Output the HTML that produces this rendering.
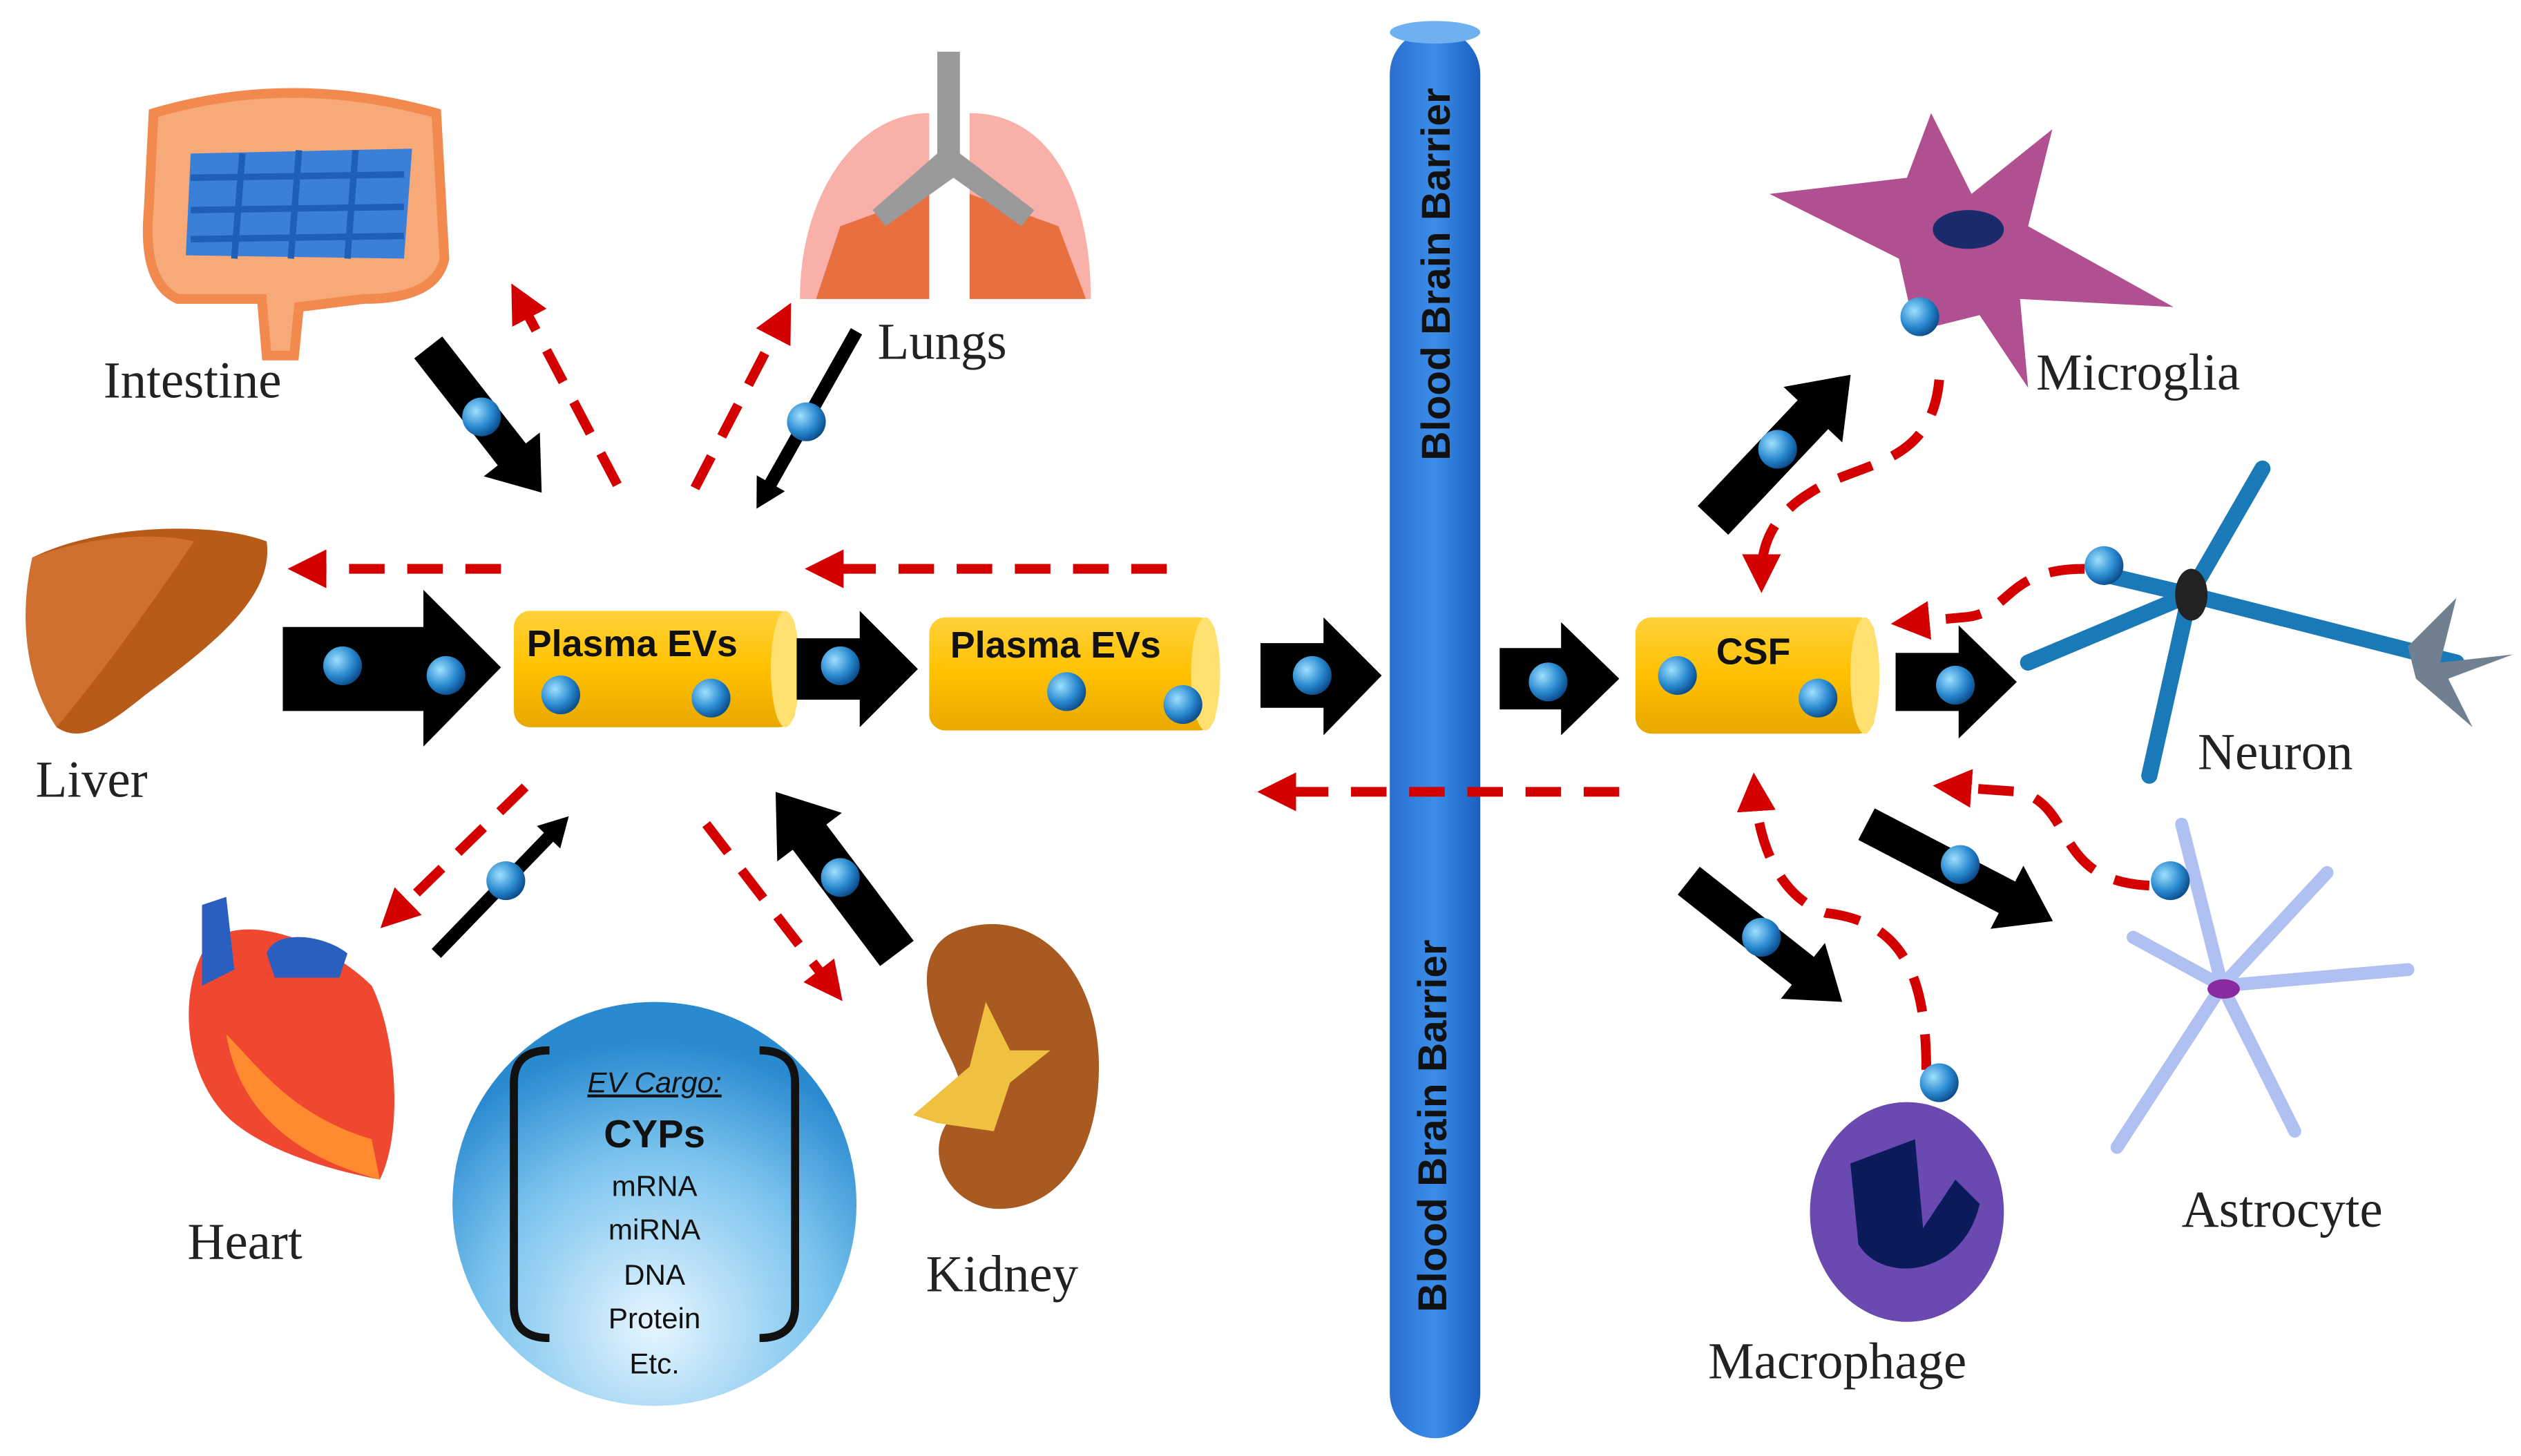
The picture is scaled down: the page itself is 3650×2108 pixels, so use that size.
<!DOCTYPE html>
<html><head><meta charset="utf-8"><style>
html,body{margin:0;padding:0;background:#fff;}
svg{display:block;}
.lbl{font-family:"Liberation Serif",serif;font-size:32px;fill:#222;}
.ev{font-family:"Liberation Sans",sans-serif;font-weight:bold;font-size:23px;fill:#111;}
.bbb{font-family:"Liberation Sans",sans-serif;font-weight:bold;font-size:25px;fill:#111;}
.d{fill:none;stroke:#D40000;stroke-width:6;stroke-dasharray:22 14;marker-end:url(#rh);}
</style></head><body>
<svg width="3650" height="2108" viewBox="0 0 1560 901" preserveAspectRatio="none" xmlns="http://www.w3.org/2000/svg">
<defs>
<radialGradient id="dot" cx="35%" cy="35%" r="70%"><stop offset="0" stop-color="#9fe0ff"/><stop offset="0.6" stop-color="#2a8ad0"/><stop offset="1" stop-color="#0a4a8a"/></radialGradient>
<linearGradient id="bar" x1="0" x2="1"><stop offset="0" stop-color="#2a6fd0"/><stop offset="0.5" stop-color="#3b8de8"/><stop offset="1" stop-color="#1a5fc0"/></linearGradient>
<radialGradient id="cargo" cx="50%" cy="80%" r="70%"><stop offset="0" stop-color="#e8f6ff"/><stop offset="0.6" stop-color="#7cc4ee"/><stop offset="1" stop-color="#2a8ad0"/></radialGradient>
<linearGradient id="cyl" x1="0" y1="0" x2="0" y2="1"><stop offset="0" stop-color="#ffd23a"/><stop offset="0.5" stop-color="#ffc000"/><stop offset="1" stop-color="#e8a800"/></linearGradient>
<marker id="rh" markerWidth="4" markerHeight="4" refX="2" refY="2" orient="auto" markerUnits="strokeWidth"><path d="M0,0 L4,2 L0,4 Z" fill="#D40000"/></marker>
<symbol id="b" overflow="visible"><circle r="12" fill="url(#dot)"/></symbol>
</defs>

<rect x="860" y="18" width="56" height="872" rx="28" fill="url(#bar)"/>
<ellipse cx="888" cy="20" rx="28" ry="7" fill="#6fb0f0"/>
<text class="bbb" transform="translate(897,285) rotate(-90)">Blood Brain Barrier</text>
<text class="bbb" transform="translate(895,812) rotate(-90)">Blood Brain Barrier</text>

<g>
<rect x="318" y="378" width="174" height="72" rx="10" fill="url(#cyl)"/><ellipse cx="486" cy="414" rx="9" ry="36" fill="#ffe070"/>
<text class="ev" x="326" y="406">Plasma EVs</text>
<use href="#b" x="347" y="430"/><use href="#b" x="440" y="432"/>
<rect x="575" y="382" width="177" height="70" rx="10" fill="url(#cyl)"/><ellipse cx="746" cy="417" rx="9" ry="35" fill="#ffe070"/>
<text class="ev" x="588" y="407">Plasma EVs</text>
<use href="#b" x="660" y="428"/><use href="#b" x="732" y="436"/>
<rect x="1012" y="382" width="148" height="72" rx="10" fill="url(#cyl)"/><ellipse cx="1154" cy="418" rx="9" ry="36" fill="#ffe070"/>
<text class="ev" x="1062" y="411">CSF</text>
<use href="#b" x="1038" y="418"/><use href="#b" x="1125" y="432"/>
</g>

<polygon points="175,388 262,388 262,365 310,413 262,462 262,440 175,440" fill="#000"/>
<use href="#b" x="212" y="412"/><use href="#b" x="276" y="418"/>
<polygon points="493,395 532,395 532,378 568,414 532,450 532,433 493,433" fill="#000"/>
<use href="#b" x="520" y="412"/>
<polygon points="780,398 819,398 819,382 855,418 819,455 819,438 780,438" fill="#000"/>
<use href="#b" x="812" y="418"/>
<polygon points="928,401 966,401 966,385 1002,420 966,455 966,439 928,439" fill="#000"/>
<use href="#b" x="958" y="422"/>
<polygon points="1173,404 1212,404 1212,387 1248,422 1212,457 1212,440 1173,440" fill="#000"/>
<use href="#b" x="1210" y="424"/>

<g transform="translate(265,215) rotate(52)"><polygon points="0,-11 84,-11 84,-22 114,0 84,22 84,11 0,11" fill="#000"/></g>
<use href="#b" x="298" y="258"/>
<g transform="translate(530,205) rotate(119.4)"><polygon points="0,-4 108,-4 108,-10 126,0 108,10 108,4 0,4" fill="#000"/></g>
<use href="#b" x="499" y="261"/>
<g transform="translate(270,590) rotate(-46)"><polygon points="0,-4 100,-4 100,-10 118,0 100,10 100,4 0,4" fill="#000"/></g>
<use href="#b" x="313" y="545"/>
<g transform="translate(555,590) rotate(-126.9)"><polygon points="0,-13 90,-13 90,-25 125,0 90,25 90,13 0,13" fill="#000"/></g>
<use href="#b" x="520" y="543"/>
<g transform="translate(1060,322) rotate(-46.6)"><polygon points="0,-13 90,-13 90,-25 124,0 90,25 90,13 0,13" fill="#000"/></g>
<use href="#b" x="1100" y="278"/>
<g transform="translate(1155,510) rotate(27.5)"><polygon points="0,-11 98,-11 98,-22 130,0 98,22 98,11 0,11" fill="#000"/></g>
<use href="#b" x="1213" y="535"/>
<g transform="translate(1045,545) rotate(38.3)"><polygon points="0,-11 90,-11 90,-22 121,0 90,22 90,11 0,11" fill="#000"/></g>
<use href="#b" x="1090" y="580"/>

<path class="d" d="M382,300 L322,186"/>
<path class="d" d="M430,302 L484,198"/>
<path class="d" d="M310,352 L190,352"/>
<path class="d" d="M722,352 L510,352"/>
<path class="d" d="M325,487 L244,566"/>
<path class="d" d="M437,510 L514,610"/>
<path class="d" d="M1002,490 L790,490"/>
<path class="d" d="M1200,235 C1195,290 1150,285 1120,305 C1095,320 1090,340 1090,355"/>
<path class="d" d="M1290,352 C1240,352 1245,380 1215,382 L1182,385"/>
<path class="d" d="M1330,548 C1270,545 1285,500 1250,490 L1208,487"/>
<path class="d" d="M1192,662 C1192,600 1175,570 1130,565 C1100,555 1088,520 1086,490"/>

<g>
<path d="M95,70 Q180,45 270,70 L275,160 Q270,185 225,185 L185,190 L182,220 L165,220 L162,185 L110,185 Q88,175 92,130 Z" fill="#f7a978" stroke="#f28a50" stroke-width="6"/>
<path d="M118,95 L255,92 L250,160 L115,158 Z" fill="#3a7fd8"/>
<path d="M118,110 L250,108 M118,130 L250,128 M118,148 L250,146 M150,95 L145,160 M185,93 L180,160 M220,93 L215,160" stroke="#1e5fb8" stroke-width="4"/>
</g>
<text class="lbl" x="64" y="246">Intestine</text>

<g>
<path d="M575,70 C530,70 495,120 495,185 L575,185 Z" fill="#f8b0a8"/>
<path d="M600,70 C650,70 675,120 675,185 L600,185 Z" fill="#f8b0a8"/>
<path d="M520,140 L575,120 L575,185 L505,185 Z" fill="#e87040"/>
<path d="M655,140 L600,120 L600,185 L672,185 Z" fill="#e87040"/>
<path d="M580,32 L594,32 L594,95 L640,130 L632,140 L590,110 L548,140 L540,130 L580,95 Z" fill="#9a9a9a"/>
</g>
<text class="lbl" x="543" y="222">Lungs</text>

<path d="M20,345 C60,325 130,322 165,335 C170,370 130,400 90,430 C65,450 50,460 35,450 C15,420 12,380 20,345 Z" fill="#b85a18"/>
<path d="M20,345 C60,330 100,330 120,335 C90,380 60,420 35,450 C15,420 12,380 20,345 Z" fill="#d07030"/>
<text class="lbl" x="22" y="493">Liver</text>

<g>
<path d="M125,590 C140,560 200,580 230,610 C245,640 250,700 235,730 C210,725 170,715 145,695 C115,670 110,620 125,590 Z" fill="#f04830"/>
<path d="M125,560 L140,555 L145,600 L125,610 Z" fill="#2a5fc0"/>
<path d="M165,590 C170,575 200,578 215,590 L210,605 L170,605 Z" fill="#2a5fc0"/>
<path d="M140,640 C160,660 180,690 230,705 L235,730 C200,720 150,700 140,640 Z" fill="#ff8a30"/>
</g>
<text class="lbl" x="116" y="779">Heart</text>

<circle cx="405" cy="745" r="125" fill="url(#cargo)"/>
<path d="M340,650 Q318,650 318,670 L318,808 Q318,828 340,828" fill="none" stroke="#111" stroke-width="5"/>
<path d="M470,650 Q492,650 492,670 L492,808 Q492,828 470,828" fill="none" stroke="#111" stroke-width="5"/>
<g font-family="Liberation Sans,sans-serif" fill="#111" text-anchor="middle">
<text x="405" y="676" font-size="18" font-style="italic" text-decoration="underline">EV Cargo:</text>
<text x="405" y="710" font-size="24" font-weight="bold">CYPs</text>
<text x="405" y="740" font-size="18">mRNA</text>
<text x="405" y="767" font-size="18">miRNA</text>
<text x="405" y="795" font-size="18">DNA</text>
<text x="405" y="822" font-size="18">Protein</text>
<text x="405" y="850" font-size="18">Etc.</text>
</g>

<path d="M595,575 C640,560 680,600 680,660 C680,720 650,750 615,748 C585,745 570,710 590,690 C605,670 580,650 575,620 C570,595 578,580 595,575 Z" fill="#a85a20"/>
<path d="M565,690 L600,660 L610,620 L625,650 L650,650 L625,670 L615,700 L580,695 Z" fill="#f0c040"/>
<text class="lbl" x="573" y="799">Kidney</text>

<path d="M1095,120 L1180,110 L1195,70 L1220,120 L1270,80 L1255,140 L1345,190 L1250,185 L1255,240 L1225,195 L1185,205 L1175,160 Z" fill="#b05090"/>
<ellipse cx="1218" cy="142" rx="22" ry="12" fill="#1a2a6a"/>
<use href="#b" x="1188" y="196"/>
<text class="lbl" x="1260" y="241">Microglia</text>

<g stroke="#1a7ab8" stroke-width="10" fill="none" stroke-linecap="round">
<path d="M1355,368 L1520,410"/><path d="M1355,368 L1330,480"/><path d="M1355,368 L1400,290"/><path d="M1355,368 L1255,410"/><path d="M1355,368 L1300,355"/>
</g>
<path d="M1490,400 L1520,370 L1510,410 L1555,405 L1515,420 L1530,450 L1495,420 Z" fill="#708090"/>
<ellipse cx="1356" cy="368" rx="10" ry="16" fill="#222"/>
<use href="#b" x="1302" y="350"/>
<text class="lbl" x="1360" y="476">Neuron</text>

<g stroke="#b0c0f0" stroke-width="8" fill="none" stroke-linecap="round">
<path d="M1375,610 L1350,510"/><path d="M1375,610 L1490,600"/><path d="M1375,610 L1310,710"/><path d="M1375,610 L1420,700"/><path d="M1375,610 L1440,540"/><path d="M1375,610 L1320,580"/>
</g>
<ellipse cx="1376" cy="612" rx="10" ry="6" fill="#8a2aa0"/>
<use href="#b" x="1343" y="545"/>
<text class="lbl" x="1350" y="759">Astrocyte</text>

<ellipse cx="1180" cy="750" rx="60" ry="68" fill="#6a4ab0"/>
<path d="M1145,720 L1185,705 L1190,760 L1210,730 L1225,745 C1215,790 1165,795 1150,770 Z" fill="#0a1a5a"/>
<use href="#b" x="1200" y="670"/>
<text class="lbl" x="1057" y="853">Macrophage</text>
</svg>
</body></html>
